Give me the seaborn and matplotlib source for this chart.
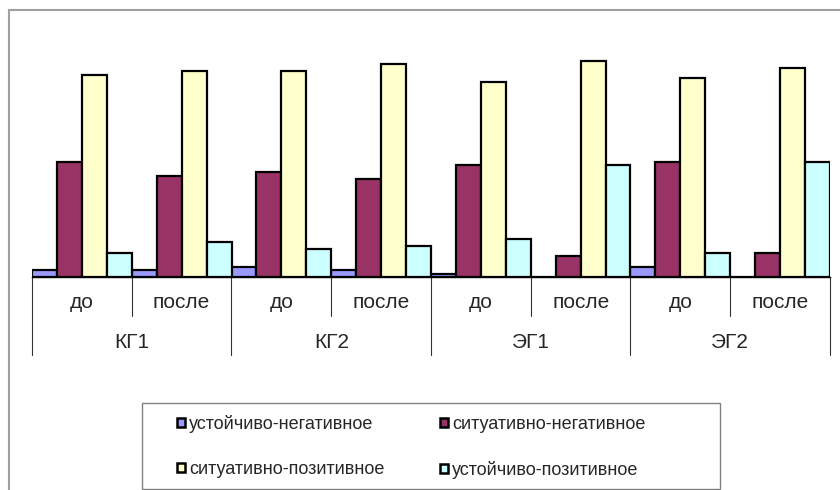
import pandas as pd
import numpy as np
from matplotlib import pyplot as plt
from matplotlib.patches import Rectangle
from matplotlib.transforms import blended_transform_factory
import seaborn as sns

# data (percent of each group)
groups = ["КГ1", "КГ2", "ЭГ1", "ЭГ2"]
stages = ["до", "после"]
series = ["устойчиво-негативное", "ситуативно-негативное",
          "ситуативно-позитивное", "устойчиво-позитивное"]
ust_neg = [2, 2, 3, 2, 1, 0, 3, 0]
sit_neg = [33, 29, 30, 28, 32, 6, 33, 7]
sit_pos = [58, 59, 59, 61, 56, 62, 57, 60]
ust_pos = [7, 10, 8, 9, 11, 32, 7, 33]
colors = ["#9999FF", "#993366", "#FFFFCC", "#CCFFFF"]

cats = [g + " " + s for g in groups for s in stages]
df = pd.DataFrame({"cat": cats, series[0]: ust_neg, series[1]: sit_neg,
                   series[2]: sit_pos, series[3]: ust_pos})
df = df.melt(id_vars="cat", var_name="series", value_name="value")

W, H = 840, 490
fig = plt.figure(figsize=(W / 100, H / 100), dpi=100)
sns.set_style("white")
plt.rcParams['font.family'] = ['Liberation Sans', 'DejaVu Sans']

# axes in pixel terms
x0, x1, ybase, ytop = 32, 830, 277, 33
ax = fig.add_axes([x0 / W, 1 - ybase / H, (x1 - x0) / W, (ybase - ytop) / H])
sns.barplot(data=df, x="cat", y="value", hue="series", order=cats,
            hue_order=series, palette=colors, width=1.0, gap=0,
            edgecolor="black", linewidth=1.6, saturation=1, ax=ax)
handles, labels = ax.get_legend_handles_labels()
ax.get_legend().remove()
ax.set_xlim(-0.5, len(cats) - 0.5)
ax.set_ylim(0, 70)
ax.set_xticks([])
ax.set_yticks([])
ax.set_xlabel("")
ax.set_ylabel("")
for s in ["top", "left", "right"]:
    ax.spines[s].set_visible(False)
ax.spines["bottom"].set_color("black")
ax.spines["bottom"].set_linewidth(1.0)

# multi-level category axis
ax_h = ybase - ytop
def fy(py):
    return (ybase - py) / ax_h
tr = blended_transform_factory(ax.transData, ax.transAxes)
for i in range(len(cats) + 1):
    xx = i - 0.5
    low = 355 if i % 2 == 0 else 316
    ax.plot([xx, xx], [0, fy(low)], transform=tr, color="#333333",
            lw=0.8, clip_on=False)
for i, c in enumerate(cats):
    ax.text(i, fy(303), c.split(" ")[1], transform=tr, ha="center",
            va="center", fontsize=15)
for j, g in enumerate(groups):
    ax.text(2 * j + 0.5, fy(342), g, transform=tr, ha="center",
            va="center", fontsize=15)

# outer chart frame
fig.patches.append(Rectangle((9 / W, -0.1), 1.2, 1 - 10 / H + 0.1,
                             transform=fig.transFigure, fill=False,
                             edgecolor="#A0A0A0", lw=1.5))
# legend frame + legend (row-major order like the reference)
fig.patches.append(Rectangle((142 / W, 1 - 489 / H), (720 - 142) / W,
                             (489 - 403) / H, transform=fig.transFigure,
                             fill=False, edgecolor="#808080", lw=1.0))
idx = [0, 2, 1, 3]
for h in handles:
    h.set_linewidth(1.8)
fig.legend([handles[k] for k in idx], [labels[k] for k in idx], ncol=2,
           frameon=False, loc="center left",
           bbox_to_anchor=(168 / W, 1 - 447 / H), fontsize=13,
           handlelength=0.45, handleheight=0.45, handletextpad=0.2,
           columnspacing=3.1, labelspacing=1.55, borderpad=0)

fig.savefig("out.png", dpi=100)
